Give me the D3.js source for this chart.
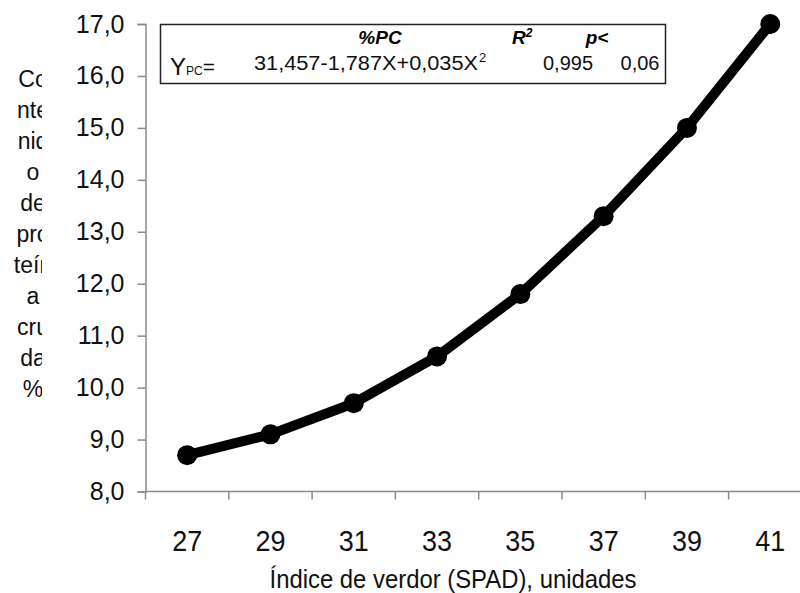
<!DOCTYPE html>
<html>
<head>
<meta charset="utf-8">
<script src="https://cdn.jsdelivr.net/npm/d3@7"></script>
<style>
  html, body { margin: 0; padding: 0; background: #fff; }
  svg { display: block; font-family: "Liberation Sans", Arial, sans-serif; }
</style>
</head>
<body>
<svg id="chart" width="800" height="593"></svg>
<script>
// ---- data ----
const categories = ["27", "29", "31", "33", "35", "37", "39", "41"];
const values = [8.7, 9.1, 9.7, 10.6, 11.8, 13.3, 15.0, 17.0];
const yTicks = [8, 9, 10, 11, 12, 13, 14, 15, 16, 17];
const yLabelLines = ["Co", "nte", "nid", "o", "de", "pro", "teín", "a", "cru", "da", "%"];
const xTitle = "Índice de verdor (SPAD), unidades";
const boxHeader = ["%PC", "R", "p<"];
const equation = ["31,457-1,787X+0,035X", "2"];
const r2Value = "0,995";
const pValue = "0,06";

(function () {
const svg = d3.select("#chart");
const plotLeft = 145.5, plotTop = 24, plotBottom = 491.5;
const step = 83.3;
const plotRight = plotLeft + step * categories.length;

const x = d3.scaleBand().domain(categories).range([plotLeft, plotRight]).padding(0);
const y = d3.scaleLinear().domain([8, 17]).range([plotBottom, plotTop]);
const fmt = d => d.toFixed(1).replace(".", ",");
const axisColor = "#8a8a8a";

// y axis
const gy = svg.append("g").attr("transform", `translate(${plotLeft},0)`)
  .call(d3.axisLeft(y).tickValues(yTicks).tickFormat(fmt).tickSize(8).tickPadding(13));
gy.select(".domain").attr("stroke", axisColor).attr("stroke-width", 1.5);
gy.selectAll(".tick line").attr("stroke", axisColor).attr("stroke-width", 1.5);
gy.selectAll(".tick text").attr("font-size", 25).attr("fill", "#111")
  .attr("font-family", "Liberation Sans, Arial, sans-serif");

// x axis: labels centred in bands, tick marks at band boundaries
const gx = svg.append("g").attr("transform", `translate(0,${plotBottom})`)
  .call(d3.axisBottom(x).tickSize(0).tickPadding(38));
gx.select(".domain").remove();
gx.selectAll(".tick text").attr("font-size", 30).attr("fill", "#111")
  .attr("font-family", "Liberation Sans, Arial, sans-serif")
  .attr("textLength", 30).attr("lengthAdjust", "spacingAndGlyphs");
const bounds = categories.map(c => x(c)).concat([x(categories[categories.length - 1]) + x.bandwidth()]);
const gxb = svg.append("g");
gxb.append("line").attr("x1", plotLeft).attr("x2", plotRight).attr("y1", plotBottom).attr("y2", plotBottom)
  .attr("stroke", axisColor).attr("stroke-width", 1.5);
gxb.selectAll("line.tk").data(bounds).join("line").attr("class", "tk")
  .attr("x1", d => d).attr("x2", d => d).attr("y1", plotBottom).attr("y2", plotBottom + 8)
  .attr("stroke", axisColor).attr("stroke-width", 1.5);

// x title
svg.append("text").attr("x", 453).attr("y", 588).attr("text-anchor", "middle")
  .attr("font-size", 26).attr("fill", "#111")
  .attr("textLength", 367).attr("lengthAdjust", "spacingAndGlyphs").text(xTitle);

// y title (wrapped, clipped)
svg.append("clipPath").attr("id", "ylabClip").append("rect")
  .attr("x", 0).attr("y", 0).attr("width", 42).attr("height", 593);
svg.append("g").attr("clip-path", "url(#ylabClip)")
  .selectAll("text").data(yLabelLines).join("text")
  .attr("x", 33).attr("y", (d, i) => 79 + 31 * i + 8)
  .attr("text-anchor", "middle").attr("font-size", 23).attr("fill", "#111")
  .text(d => d);

// line + markers
const line = d3.line().x((d, i) => x(categories[i]) + x.bandwidth() / 2).y(d => y(d));
svg.append("path").datum(values).attr("d", line)
  .attr("fill", "none").attr("stroke", "#000").attr("stroke-width", 10)
  .attr("stroke-linejoin", "round");
svg.selectAll("circle.pt").data(values).join("circle").attr("class", "pt")
  .attr("cx", (d, i) => x(categories[i]) + x.bandwidth() / 2).attr("cy", d => y(d))
  .attr("r", 10).attr("fill", "#000");

// equation box
const box = svg.append("g");
box.append("rect").attr("x", 160.5).attr("y", 24.5).attr("width", 505).attr("height", 59)
  .attr("fill", "#fff").attr("stroke", "#222").attr("stroke-width", 1.5);
box.append("text").attr("x", 380).attr("y", 44).attr("text-anchor", "middle")
  .attr("font-size", 19).attr("font-weight", "bold").attr("font-style", "italic").text(boxHeader[0]);
const rt = box.append("text").attr("x", 512).attr("y", 44)
  .attr("font-size", 19).attr("font-weight", "bold").attr("font-style", "italic");
rt.append("tspan").text(boxHeader[1]);
rt.append("tspan").attr("font-size", 12).attr("dy", -7).text("2");
box.append("text").attr("x", 597).attr("y", 44).attr("text-anchor", "middle")
  .attr("font-size", 19).attr("font-weight", "bold").attr("font-style", "italic").text(boxHeader[2]);

const yt = box.append("text").attr("x", 170).attr("y", 75).attr("fill", "#111");
yt.append("tspan").attr("font-size", 24).text("Y");
yt.append("tspan").attr("font-size", 12).text("PC");
yt.append("tspan").attr("font-size", 21).attr("dy", -1).text("=");

box.append("text").attr("x", 254).attr("y", 70).attr("font-size", 20).attr("fill", "#111")
  .attr("textLength", 224).attr("lengthAdjust", "spacingAndGlyphs").text(equation[0]);
box.append("text").attr("x", 479).attr("y", 62).attr("font-size", 13).attr("fill", "#111").text(equation[1]);
box.append("text").attr("x", 568).attr("y", 70).attr("text-anchor", "middle")
  .attr("font-size", 20).attr("fill", "#111").text(r2Value);
box.append("text").attr("x", 640).attr("y", 70).attr("text-anchor", "middle")
  .attr("font-size", 20).attr("fill", "#111").text(pValue);
})();
</script>
</body>
</html>
